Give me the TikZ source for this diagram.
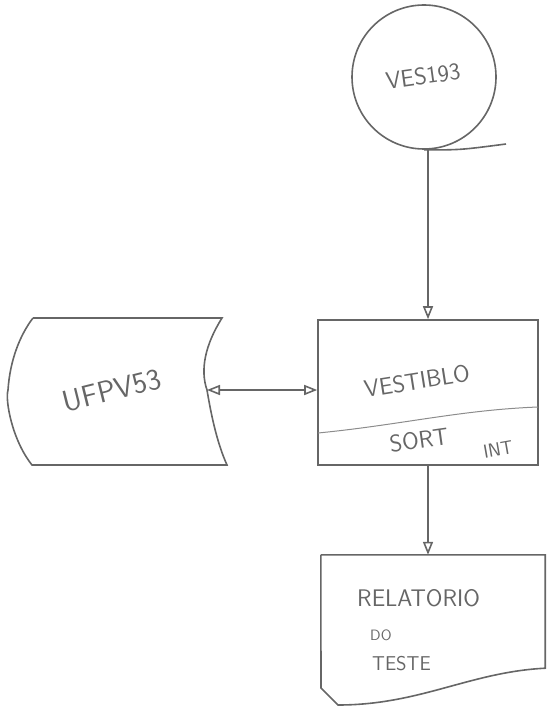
\documentclass[tikz,border=0pt]{standalone}
\usepackage{tikz}
\usetikzlibrary{arrows.meta,calc,positioning}

\begin{document}
\begin{tikzpicture}[
    x=1pt,
    y=-1pt,
    every node/.style={inner sep=0pt},
    pencil/.style={draw=black!60, line width=1.6pt},
    hand/.style={text=black!60, font=\sffamily\fontsize{24}{26}\selectfont},
    opentip/.style={-{Triangle[open,length=13pt,width=10pt]}}
]

\useasboundingbox (0,0) rectangle (546,711);


% Tape
\node[pencil, circle, minimum size=144pt] (tape) at (424,77) {};
\node[hand, rotate=8] (tapelbl) at (423,76) {VES193};
\coordinate (tapetail) at (506,144);
\draw[pencil] (tape.south) .. controls (460,150) .. (tapetail);


% Program
\node[pencil, rectangle, minimum width=220pt, minimum height=145pt] (sortbox) at (428,392.5) {};
\draw[draw=black!45, line width=1pt] (318,433) .. controls (400,425) and (460,410) .. (538,407);
\node[hand, rotate=9] (sortlbl) at (417,381) {VESTIBLO};
\node[hand, rotate=8] (sortkind) at (419,440) {SORT};
\node[hand, rotate=10, font=\sffamily\fontsize{19}{21}\selectfont] (sortint) at (498,449) {INT};


% Stored data
\draw[pencil] (33,318) -- (222,318)
    .. controls (205,345) and (200,370) .. (207,390)
    .. controls (212,420) and (218,445) .. (227,465)
    -- (32,465)
    .. controls (12,440) and (5,400) .. (8,390)
    .. controls (10,360) and (20,335) .. (33,318);
\node[hand, rotate=14, font=\sffamily\fontsize{30}{32}\selectfont] (store) at (112,390) {UFPV53};
\coordinate (storeport) at (207,390);


% Document
\node[minimum width=224pt, minimum height=113pt] (report) at (433,611.5) {};
\draw[pencil] (report.north west) -- (report.north east) -- (report.south east)
    .. controls (470,672) and (420,705) .. (338,705)
    -- (321,688) -- (report.north west);
\node[hand, anchor=west] (reptitle) at (357,598) {RELATORIO};
\node[hand, anchor=west, font=\sffamily\fontsize{15}{17}\selectfont] (repdo) at (370,635) {DO};
\node[hand, anchor=west, font=\sffamily\fontsize{20}{22}\selectfont] (reptest) at (372,664) {TESTE};


% Connections
\draw[pencil, opentip] (tape.south -| sortbox.north) -- (sortbox.north);
\draw[pencil, {Triangle[open,length=13pt,width=10pt]}-{Triangle[open,length=13pt,width=10pt]}] (storeport) -- (storeport -| sortbox.west);
\draw[pencil, opentip] (sortbox.south) -- (sortbox.south |- report.north);


\end{tikzpicture}
\end{document}
